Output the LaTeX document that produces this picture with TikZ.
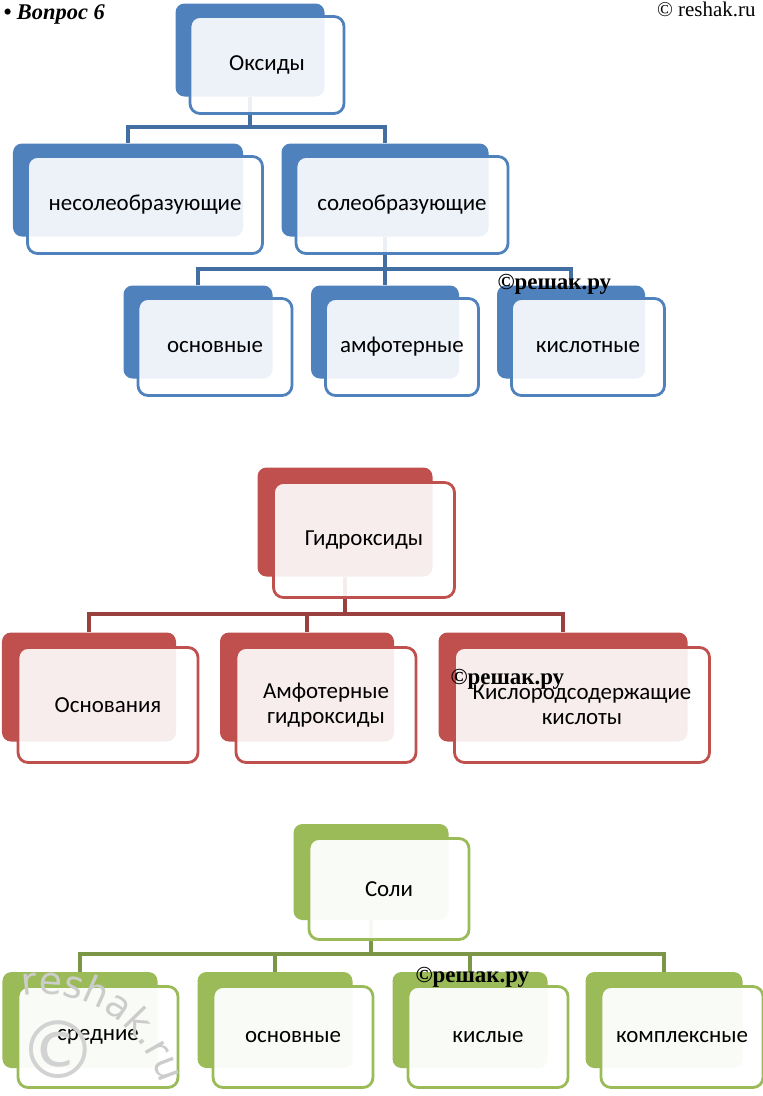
\documentclass[tikz,border=0pt]{standalone}
\usepackage{fontspec}
\setmainfont{Carlito}
\newfontfamily\wmserif{Liberation Serif}
\newfontfamily\wmsans{DejaVu Sans}
\usetikzlibrary{calc, positioning, decorations.text}
\definecolor{OxideBlue}{RGB}{79, 129, 189}
\definecolor{HydroxRed}{RGB}{192, 80, 77}
\definecolor{SaltGreen}{RGB}{155, 187, 89}

\tikzset{
  backbox/.style={rounded corners=9bp, inner sep=0pt},
  frontbox/.style={rounded corners=10bp, line width=2.8bp, fill=white, fill opacity=0.9,
                   text opacity=1, align=center, inner sep=0pt,
                   font=\fontsize{23}{25}\selectfont},
  link/.style={line width=3.4bp},
  stamp/.style={font=\wmserif\bfseries\fontsize{23}{23}\selectfont, anchor=base west}
}

\begin{document}
\begin{tikzpicture}[x=1bp, y=-1bp]
  \useasboundingbox (0,0) rectangle (763,1096);

  % Oxides: back boxes, links, front boxes
  \def\oxlist{oks/250/50/149/Оксиды, nesol/128/190/230/несолеобразующие,
              sol/385/190/207/солеобразующие, osn/198/332/149/основные,
              amf/385/332/148/амфотерные, kisl/571/332/148/кислотные}
  \foreach \name/\x/\y/\w/\txt in \oxlist
    \node[backbox, fill=OxideBlue, minimum width=\w bp, minimum height=93bp] (\name B) at (\x,\y) {};
  \coordinate (oxbus1) at (0,127);
  \coordinate (oxbus2) at (0,269);
  \draw[link, OxideBlue!85!black] (oksB.south) -- (oksB.south |- oxbus1) -| (nesolB.north);
  \draw[link, OxideBlue!85!black] (oksB.south |- oxbus1) -| (solB.north);
  \draw[link, OxideBlue!85!black] (solB.south) -- (solB.south |- oxbus2) -| (osnB.north);
  \draw[link, OxideBlue!85!black] (solB.south |- oxbus2) -- (amfB.north);
  \draw[link, OxideBlue!85!black] (solB.south |- oxbus2) -| (kislB.north);
  \foreach \name/\x/\y/\w/\txt in \oxlist
    \node[frontbox, draw=OxideBlue, minimum width=\w bp+5bp, minimum height=97bp] (\name F)
      at ($(\name B)+(17,15)$) {\txt};

  % Hydroxides
  \def\hylist{gid/345/522/175/Гидроксиды, osnov/89/687/174/Основания,
              amfg/307/687/174/{Амфотерные\\гидроксиды}, kislor/563/687/249/{Кислородсодержащие\\кислоты}}
  \foreach \name/\x/\y/\w/\txt in \hylist
    \node[backbox, fill=HydroxRed, minimum width=\w bp, minimum height=109bp] (\name B) at (\x,\y) {};
  \coordinate (hybus) at (0,614);
  \draw[link, HydroxRed!80!black] (gidB.south) -- (gidB.south |- hybus) -| (osnovB.north);
  \draw[link, HydroxRed!80!black] (gidB.south |- hybus) -| (amfgB.north);
  \draw[link, HydroxRed!80!black] (gidB.south |- hybus) -| (kislorB.north);
  \foreach \name/\x/\y/\w/\txt in \hylist
    \node[frontbox, draw=HydroxRed, minimum width=\w bp+6bp, minimum height=115bp] (\name F)
      at ($(\name B)+(19,18)$) {\txt};

  % Salts
  \def\salist{soli/371/872/155/Соли, sred/80/1020/155/средние, osns/275/1020/155/основные,
              kisly/470/1020/155/кислые, kompl/664/1020/157/комплексные}
  \foreach \name/\x/\y/\w/\txt in \salist
    \node[backbox, fill=SaltGreen, minimum width=\w bp, minimum height=96bp] (\name B) at (\x,\y) {};
  \coordinate (sabus) at (0,954);
  \draw[link, SaltGreen!80!black] (soliB.south) -- (soliB.south |- sabus) -| (sredB.north);
  \draw[link, SaltGreen!80!black] (soliB.south |- sabus) -| (osnsB.north);
  \draw[link, SaltGreen!80!black] (soliB.south |- sabus) -| (kislyB.north);
  \draw[link, SaltGreen!80!black] (soliB.south |- sabus) -| (komplB.north);
  \foreach \name/\x/\y/\w/\txt in \salist
    \node[frontbox, draw=SaltGreen, fill opacity=0.95, minimum width=\w bp+5bp, minimum height=101bp] (\name F)
      at ($(\name B)+(18,17)$) {\txt};

  % headings and stamps
  \node[font=\wmserif\bfseries\itshape\fontsize{22.5}{22.5}\selectfont, anchor=base west] (task) at (0,19) {• Вопрос 6};
  \node[font=\wmserif\fontsize{21}{21}\selectfont, anchor=base east] (site) at (759,16) {© reshak.ru};
  \node[stamp] (stampA) at (494,289) {©решак.ру};
  \node[stamp] (stampB) at (447,684) {©решак.ру};
  \node[stamp] (stampC) at (412,982) {©решак.ру};
  \node[font=\wmsans\fontsize{80}{80}\selectfont, text=gray!35, inner sep=0pt] (copy) at (58,1050) {©};
  \path[decorate, decoration={text along path, text align=center,
        text={|\wmsans\fontsize{38}{38}\selectfont\color{gray!40}|reshak.ru}}]
    ($(42,1116)+(-104:122)$) arc[start angle=-104, end angle=-10, radius=122];
\end{tikzpicture}
\end{document}
